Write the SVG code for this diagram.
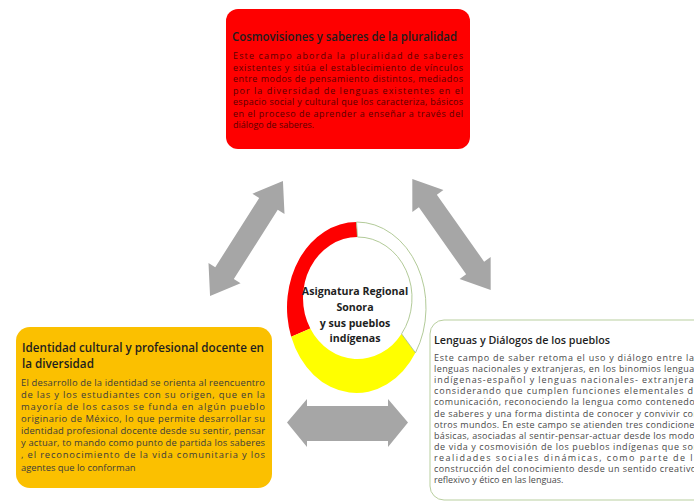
<svg xmlns="http://www.w3.org/2000/svg" width="694" height="504" viewBox="0 0 694 504">
<style>
.title{font-family:"Open Sans","Liberation Sans",sans-serif;font-weight:600;fill:#1e1e1e}
.body{font-family:"Open Sans","Liberation Sans",sans-serif;font-size:9px}
.tb{fill:#5a0000}
.lb{fill:#3c3c3c;font-size:9.4px}
.rb{fill:#4a4a4a}
.arrow{fill:#a6a6a6}
.center{font-family:"Open Sans","Liberation Sans",sans-serif;font-weight:700;font-size:10.6px;fill:#1e1e1e;text-anchor:middle}
</style>
<defs>
<path id="dArrow" d="M-68,0 L-41,-19 L-41,-11 L41,-11 L41,-19 L68,0 L41,19 L41,11 L-41,11 L-41,19 Z"/>
</defs>
<rect width="694" height="504" fill="#ffffff"/>

<g id="connectors">
<use href="#dArrow" class="arrow" transform="translate(246.5,238.5) rotate(-57.6)"/>
<use href="#dArrow" class="arrow" transform="translate(451.5,234.5) rotate(54.8)"/>
<path class="arrow" d="M287,422.5 L307,399 L307,406 L388,406 L388,399 L408,422.5 L388,447 L388,441 L307,441 L307,447 Z"/>
</g>

<g id="node-top">
<rect x="226" y="9" width="244" height="140" rx="12" fill="#fe0000"/>
<text class="title" x="232" y="41" font-size="11.8" textLength="225" lengthAdjust="spacingAndGlyphs">Cosmovisiones y saberes de la pluralidad</text>
<g class="body tb">
<text x="233" y="59" textLength="230" lengthAdjust="spacing">Este campo aborda la pluralidad de saberes</text>
<text x="233" y="70.5" textLength="230" lengthAdjust="spacing">existentes y sitúa el establecimiento de vínculos</text>
<text x="233" y="82" textLength="230" lengthAdjust="spacing">entre modos de pensamiento distintos, mediados</text>
<text x="233" y="93.5" textLength="230" lengthAdjust="spacing">por la diversidad de lenguas existentes en el</text>
<text x="233" y="105" textLength="230" lengthAdjust="spacing">espacio social y cultural que los caracteriza, básicos</text>
<text x="233" y="116.5" textLength="230" lengthAdjust="spacing">en el proceso de aprender a enseñar a través del</text>
<text x="233" y="128">diálogo de saberes.</text>
</g>
</g>

<g id="node-center">
<path d="M291.19,336.74 A69.5,85.5 0 0 1 356.5,222 L357.5,237 A54.5,61 0 0 0 310.30,328.5 Z" fill="#fe0000"/>
<path d="M415.44,352.81 A69.5,85.5 0 0 1 291.19,336.74 L310.30,328.5 A54.5,61 0 0 0 401.59,333.86 Z" fill="#ffff00"/>
<path d="M356.5,222 A69.5,85.5 0 0 1 415.44,352.81 L401.59,333.86 A54.5,61 0 0 0 357.5,237 Z" fill="#ffffff" stroke="#a9c48c" stroke-width="0.9"/>
<text class="center" x="355" y="295">Asignatura Regional</text>
<text class="center" x="355" y="311">Sonora</text>
<text class="center" x="355" y="326.5">y sus pueblos</text>
<text class="center" x="355" y="342">indígenas</text>
</g>

<g id="node-left">
<rect x="16" y="327" width="256" height="161" rx="14" fill="#fbc000"/>
<text class="title" x="22" y="352" font-size="11.7" textLength="242" lengthAdjust="spacingAndGlyphs">Identidad cultural y profesional docente en</text>
<text class="title" x="22" y="368" font-size="11.7">la diversidad</text>
<g class="body lb">
<text x="21" y="385.5" textLength="244" lengthAdjust="spacing">El desarrollo de la identidad se orienta al reencuentro</text>
<text x="21" y="397.6" textLength="244" lengthAdjust="spacing">de las y los estudiantes con su origen, que en la</text>
<text x="21" y="409.8" textLength="244" lengthAdjust="spacing">mayoría de los casos se funda en algún pueblo</text>
<text x="21" y="421.9" textLength="244" lengthAdjust="spacing">originario de México, lo que permite desarrollar su</text>
<text x="21" y="434.1" textLength="244" lengthAdjust="spacing">identidad profesional docente desde su sentir, pensar</text>
<text x="21" y="446.2" textLength="244" lengthAdjust="spacing">y actuar, to mando como punto de partida los saberes</text>
<text x="21" y="458.3" textLength="244" lengthAdjust="spacing">, el reconocimiento de la vida comunitaria y los</text>
<text x="21" y="470.5">agentes que lo conforman</text>
</g>
</g>

<g id="node-right">
<rect x="430" y="320" width="290" height="180" rx="14" fill="#ffffff" stroke="#b9cf9f" stroke-width="1"/>
<text class="title" x="434" y="344" font-size="11.4" textLength="176" lengthAdjust="spacingAndGlyphs">Lenguas y Diálogos de los pueblos</text>
<g class="body rb">
<text x="434" y="361" textLength="265" lengthAdjust="spacing">Este campo de saber retoma el uso y diálogo entre las</text>
<text x="434" y="372.1" textLength="265" lengthAdjust="spacing">lenguas nacionales y extranjeras, en los binomios lenguas</text>
<text x="434" y="383.2" textLength="265" lengthAdjust="spacing">indígenas-español y lenguas nacionales- extranjeras</text>
<text x="434" y="394.3" textLength="265" lengthAdjust="spacing">considerando que cumplen funciones elementales de</text>
<text x="434" y="405.4" textLength="265" lengthAdjust="spacing">comunicación, reconociendo la lengua como contenedor</text>
<text x="434" y="416.5" textLength="265" lengthAdjust="spacing">de saberes y una forma distinta de conocer y convivir con</text>
<text x="434" y="427.6" textLength="265" lengthAdjust="spacing">otros mundos. En este campo se atienden tres condiciones</text>
<text x="434" y="438.7" textLength="265" lengthAdjust="spacing">básicas, asociadas al sentir-pensar-actuar desde los modos</text>
<text x="434" y="449.8" textLength="265" lengthAdjust="spacing">de vida y cosmovisión de los pueblos indígenas que son</text>
<text x="434" y="460.9" textLength="265" lengthAdjust="spacing">realidades sociales dinámicas, como parte de la</text>
<text x="434" y="472" textLength="265" lengthAdjust="spacing">construcción del conocimiento desde un sentido creativo,</text>
<text x="434" y="483.1">reflexivo y ético en las lenguas.</text>
</g>
</g>
</svg>
